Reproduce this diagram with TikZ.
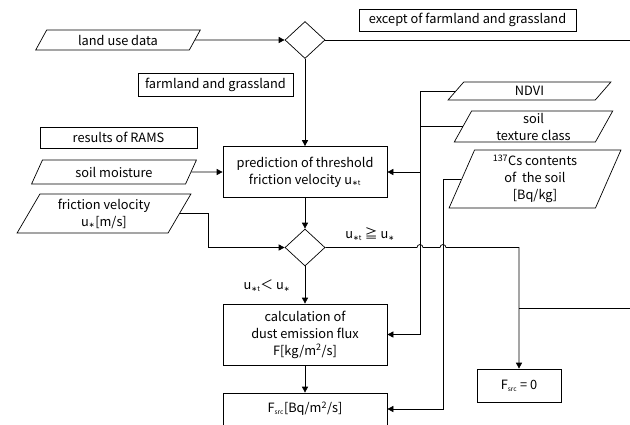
\documentclass[tikz,border=0pt]{standalone}
\usepackage{fontspec}
\setmainfont{Noto Sans CJK JP}
\newfontfamily\symfont{DejaVu Sans}
\usetikzlibrary{arrows.meta, calc, shapes.geometric}

\newcommand{\subtx}[1]{\textsubscript{\scriptsize #1}}
\newcommand{\srctx}{\textsubscript{\fontsize{6.5}{7}\selectfont src}}
\newcommand{\astx}{{\symfont ∗}}

\begin{document}
\begin{tikzpicture}[x=1pt, y=-1pt, >={Triangle[length=6pt, width=6pt]}, line width=0.7pt,
    box/.style={draw, rectangle, inner sep=1pt, align=center, font=\fontsize{12.8}{17}\selectfont},
    iobox/.style={draw, trapezium, trapezium left angle=#1, trapezium right angle={180-#1},
        trapezium stretches=true, inner sep=1pt, align=center, font=\fontsize{12.8}{17}\selectfont},
    decision/.style={draw, diamond, inner sep=0pt, minimum width=40pt, minimum height=37pt},
    cond_text/.style={font=\fontsize{12.8}{14}\selectfont}
]
\useasboundingbox (0,0) rectangle (630,424);

% Define coordinates for the off-page ends and the two feed lines
\coordinate (farT) at (630,40);
\coordinate (farR) at (630,308);
\coordinate (busN) at (420,0);
\coordinate (busC) at (443,0);

% Draw the main column
\node[decision] (d1) at (305,40) {};
\node[box, minimum width=164pt, minimum height=51pt] (pred) at (305,172) {prediction of threshold\\friction velocity u\subtx{\astx t}};
\node[decision] (d2) at (305,247.5) {};
\node[box, minimum width=164pt, minimum height=61pt] (calc) at (305,334.5) {calculation of\\dust emission flux\\F[kg/m\textsuperscript{2}/s]};
\node[box, minimum width=164pt, minimum height=32pt] (fsrc) at (305,409) {F\srctx[Bq/m\textsuperscript{2}/s]};
\node[box, minimum width=84pt, minimum height=33pt] (zero) at (519,385.5) {F\srctx\ = 0};

% Draw the inputs on the left
\node[iobox=63, minimum width=166pt, minimum height=20pt] (land) at (118,40) {land use data};
\node[box, minimum width=155pt, minimum height=23pt] (farm) at (215.5,84.5) {farmland and grassland};
\node[box, minimum width=217pt, minimum height=22pt] (except) at (467.5,20) {except of farmland and grassland};
\node[box, minimum width=157pt, minimum height=21pt] (rams) at (118.5,137.5) {results of RAMS};
\node[iobox=64, minimum width=166pt, minimum height=24pt] (moist) at (114,172) {soil moisture};
\node[iobox=62, minimum width=174pt, minimum height=39pt] (fric) at (104,213.5) {friction velocity\\u\subtx{\astx}[m/s]};

% Draw the inputs on the right
\node[iobox=72, minimum width=163pt, minimum height=18pt] (ndvi) at (529.5,91) {NDVI};
\node[iobox=70, minimum width=159pt, minimum height=31pt] (texture) at (533.5,126.5) {soil\\texture class};
\node[iobox=70, minimum width=172pt, minimum height=58pt] (cs) at (535,179) {\textsuperscript{137}Cs contents\\of\ \ the soil\\[0pt][Bq/kg]};

% Conditions at the second decision
\node[cond_text] (ge) at (370,234) {u\subtx{\astx t} ≧ u\subtx{\astx}};
\node[cond_text] (lt) at (267,286) {u\subtx{\astx t}＜ u\subtx{\astx}};

% Draw the connectors
\draw[->] (land.east) -- (d1.west);
\draw (d1.east) -- (farT);
\draw[->] (d1.south) -- (pred.north);
\draw[->] (moist.east) -- (pred.west);
\draw[->] (pred.south) -- (d2.north);
\draw[->] (fric.east) -- ++(28,0) |- (d2.west);
\draw[->] (d2.south) -- (calc.north);
\draw[->] (calc.south) -- (fsrc.north);

% NDVI and soil texture feed both boxes
\draw[->] (ndvi.west) -| (busN |- calc.east) -- (calc.east);
\draw (texture.west) -- (texture.west -| busN);
\draw[->] (busN |- pred.east) -- (pred.east);

% Cs contents feed the source term
\draw[->] (cs.west) -| (busC |- fsrc.east) -- (fsrc.east);

% No emission branch, hopping over the feed lines
\draw[->] (d2.east) -- ($(d2.east -| busN)+(-3,0)$) arc[start angle=180, end angle=360, radius=3]
    -- ($(d2.east -| busC)+(-3,0)$) arc[start angle=180, end angle=360, radius=3] -| (zero.north);
\draw (farR) -- (farR -| zero.north);

\end{tikzpicture}
\end{document}
